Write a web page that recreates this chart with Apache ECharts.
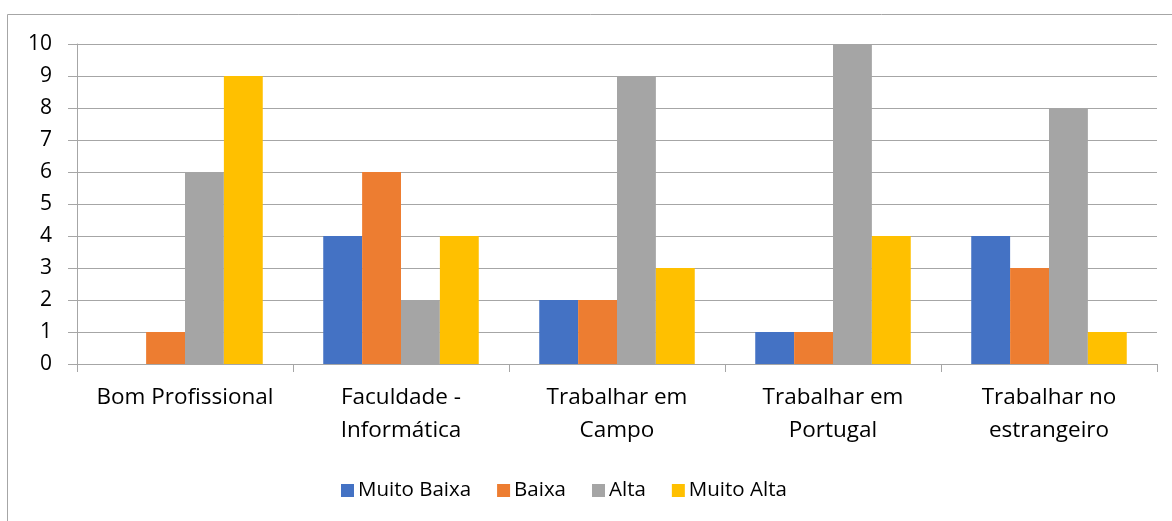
<!DOCTYPE html>
<html><head><meta charset="utf-8">
<script src="https://cdn.jsdelivr.net/npm/echarts@6/dist/echarts.min.js"></script>
<style>html,body{margin:0;padding:0;background:#fff}#c{width:1172px;height:521px}</style>
</head><body><div id="c"></div>
<script>
const categories = ['Bom Profissional', 'Faculdade -\nInformática', 'Trabalhar em\nCampo', 'Trabalhar em\nPortugal', 'Trabalhar no\nestrangeiro'];
const muitoBaixa = [0, 4, 2, 1, 4];
const baixa = [1, 6, 2, 1, 3];
const alta = [6, 2, 9, 10, 8];
const muitoAlta = [9, 4, 3, 4, 1];
const yTicks = [0,1,2,3,4,5,6,7,8,9,10];

const FONT = 'Open Sans';
const names = ['Muito Baixa', 'Baixa', 'Alta', 'Muito Alta'];
const colors = ['#4472C4', '#ED7D31', '#A5A5A5', '#FFC000'];
const data = [muitoBaixa, baixa, alta, muitoAlta];

const chart = echarts.init(document.getElementById('c'), null, {renderer: 'canvas'});
chart.setOption({
  animation: false,
  textStyle: {fontFamily: FONT},
  graphic: [{type: 'rect', shape: {x: 7.5, y: 14.5, width: 1300, height: 700}, style: {fill: 'none', stroke: '#A6A6A6', lineWidth: 1}, silent: true}],
  grid: {left: 77, right: 15, top: 44, bottom: 157},
  legend: {
    data: names, top: 475, left: 336, itemWidth: 13, itemHeight: 13, itemGap: 26, icon: 'rect',
    textStyle: {fontSize: 20.5, color: '#000', fontFamily: FONT, padding: [0,0,0,-1]}
  },
  xAxis: {
    type: 'category', data: categories,
    axisLine: {lineStyle: {color: '#A6A6A6'}},
    axisTick: {show: true, length: 8, lineStyle: {color: '#A6A6A6'}},
    axisLabel: {fontSize: 22.5, color: '#000', lineHeight: 33, margin: 17, interval: 0, fontFamily: FONT}
  },
  yAxis: {
    type: 'value', min: yTicks[0], max: yTicks[yTicks.length-1], interval: 1,
    axisLine: {show: true, lineStyle: {color: '#A6A6A6'}},
    axisTick: {show: true, length: 9, lineStyle: {color: '#A6A6A6'}},
    splitLine: {lineStyle: {color: '#A6A6A6'}},
    axisLabel: {fontSize: 21, color: '#000', margin: 25, fontFamily: FONT}
  },
  series: names.map((n, i) => ({
    name: n, type: 'bar', data: data[i], barGap: '0%', barCategoryGap: '28%',
    itemStyle: {color: colors[i]}
  }))
});
</script></body></html>
